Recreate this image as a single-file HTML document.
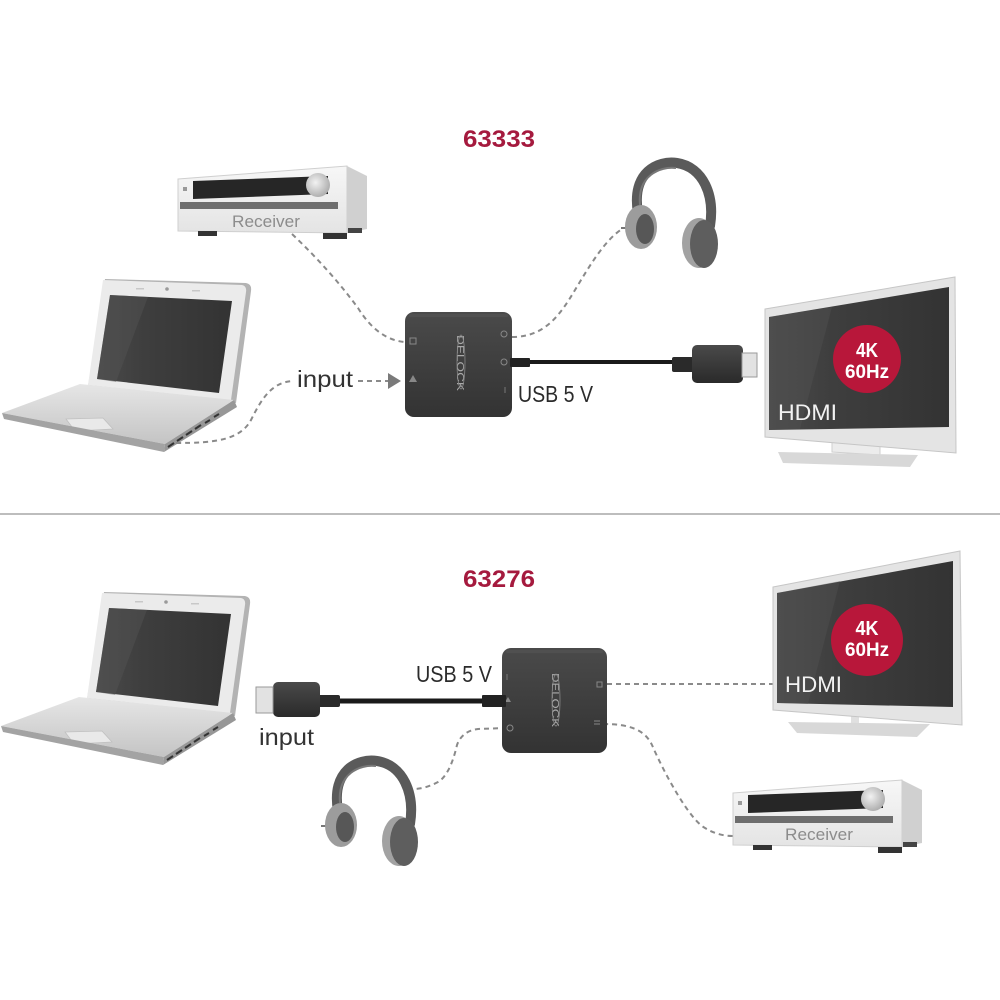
<!DOCTYPE html>
<html><head><meta charset="utf-8"><style>
html,body{margin:0;padding:0;background:#fff;}
svg{display:block;font-family:"Liberation Sans",sans-serif;}
</style></head><body>
<svg width="1000" height="1000" viewBox="0 0 1000 1000" xmlns="http://www.w3.org/2000/svg">
<defs>
<linearGradient id="rf" x1="0" y1="0" x2="0" y2="1"><stop offset="0" stop-color="#f7f7f7"/><stop offset="1" stop-color="#e4e4e4"/></linearGradient>
<radialGradient id="kn" cx="0.4" cy="0.4" r="0.6"><stop offset="0" stop-color="#f2f2f2"/><stop offset="1" stop-color="#b0b0b0"/></radialGradient>
<linearGradient id="bx" x1="0" y1="0" x2="0" y2="1"><stop offset="0" stop-color="#4a4a4a"/><stop offset="1" stop-color="#333"/></linearGradient>
<linearGradient id="pl" x1="0" y1="0" x2="0" y2="1"><stop offset="0" stop-color="#4a4a4a"/><stop offset="1" stop-color="#2a2a2a"/></linearGradient>
<linearGradient id="dk" x1="0" y1="0" x2="0" y2="1"><stop offset="0" stop-color="#e6e6e6"/><stop offset="1" stop-color="#c4c4c4"/></linearGradient>
<linearGradient id="scr" x1="0" y1="0" x2="1" y2="0"><stop offset="0" stop-color="#4a4a4a"/><stop offset="0.35" stop-color="#3e3e3e"/><stop offset="1" stop-color="#333"/></linearGradient>

<g id="rcv">
<polygon points="733,793 902,780 902,847 733,845" fill="url(#rf)" stroke="#cfcfcf" stroke-width="1"/>
<polygon points="902,780 922,790 922,843 902,847" fill="#d0d0d0"/>
<polygon points="748,795 883,790 883,808 748,813" fill="#262626"/>
<circle cx="873" cy="799" r="12" fill="url(#kn)"/>
<rect x="738" y="801" width="4" height="4" fill="#999"/>
<rect x="735" y="816" width="158" height="7" fill="#6e6e6e"/>
<rect x="753" y="845" width="19" height="5" fill="#333"/>
<rect x="878" y="847" width="24" height="6" fill="#333"/>
<rect x="903" y="842" width="14" height="5" fill="#444"/>
</g>

<g id="lap">
<path d="M105,279 L246,283 Q252,284 251,291 L236,403 L88,386 Z" fill="#b3b3b3"/>
<path d="M103,280 L242,285 Q247,286 246,292 L231,400 L88,385 Z" fill="#ebebeb"/>
<polygon points="110,295 232,301 219,393 97,379" fill="url(#scr)"/>
<polygon points="110,295 148,297 116,382 97,379" fill="#555" opacity="0.45"/>
<circle cx="167" cy="289" r="1.8" fill="#9a9a9a"/>
<rect x="136" y="288" width="8" height="1.5" fill="#c8c8c8"/>
<rect x="192" y="290" width="8" height="1.5" fill="#c8c8c8"/>
<polygon points="2,413 80,384 234,400 165,444" fill="url(#dk)"/>
<polygon points="66,419 103,418 113,429 75,431" fill="#e9e9e9" stroke="#c0c0c0" stroke-width="0.8"/>
<polygon points="2,413 165,444 164,452 4,419" fill="#a3a3a3"/>
<polygon points="165,444 234,400 237,407 164,452" fill="#979797"/>
<g stroke="#333" stroke-width="2">
<line x1="168" y1="447" x2="174" y2="443"/><line x1="177" y1="441" x2="183" y2="437"/><line x1="186" y1="435" x2="192" y2="431"/><line x1="195" y1="429" x2="201" y2="425"/><line x1="205" y1="423" x2="210" y2="420"/><line x1="214" y1="417" x2="219" y2="414"/>
</g>
</g>

<g id="hp">
<path d="M638,213 C631,172 658,160 677,163 C703,167 715,195 710,226" stroke="#5a5a5a" stroke-width="10" fill="none" stroke-linecap="round"/>
<path d="M640,205 C637,176 660,166 676,168" stroke="#777" stroke-width="2" fill="none"/>
<line x1="621" y1="228" x2="628" y2="228" stroke="#777" stroke-width="2"/>
<ellipse cx="641" cy="227" rx="16" ry="22" fill="#9c9c9c"/>
<ellipse cx="645" cy="229" rx="9" ry="15" fill="#575757"/>
<ellipse cx="699" cy="243" rx="17" ry="25" fill="#a2a2a2"/>
<ellipse cx="704" cy="244" rx="14" ry="24" fill="#5e5e5e"/>
</g>
</defs>

<!-- separator -->
<line x1="0" y1="514" x2="1000" y2="514" stroke="#bdbdbd" stroke-width="2"/>

<!-- ===== TOP SECTION ===== -->
<text x="499" y="147" font-size="24" font-weight="bold" fill="#a51a3e" text-anchor="middle" textLength="72" lengthAdjust="spacingAndGlyphs">63333</text>

<use href="#rcv" transform="translate(-555,-614)"/>
<text x="266" y="227" font-size="17" fill="#8c8c8c" text-anchor="middle" textLength="68" lengthAdjust="spacingAndGlyphs">Receiver</text>

<use href="#lap"/>
<use href="#hp"/>

<g fill="none" stroke="#8a8a8a" stroke-width="2" stroke-dasharray="5,4">
<path d="M292,234 Q330,270 358,308 Q378,340 405,342"/>
<path d="M512,337 C545,337 560,315 575,290 C590,265 605,240 622,229"/>
<path d="M176,443 C215,443 240,440 251,420 C262,398 272,382 293,381"/>
<path d="M358,381 L388,381"/>
</g>
<polygon points="388,373 401,381 388,389" fill="#7a7a7a"/>
<text x="297" y="387" font-size="23" fill="#333" textLength="56" lengthAdjust="spacingAndGlyphs">input</text>

<!-- top box -->
<rect x="405" y="312" width="107" height="105" rx="9" fill="url(#bx)"/>
<rect x="409" y="314" width="99" height="3" rx="1.5" fill="#555" opacity="0.6"/>
<text transform="translate(457,363) rotate(90)" font-size="10" fill="#aaa" text-anchor="middle" textLength="56" lengthAdjust="spacingAndGlyphs">DELOCK</text>
<ellipse cx="461" cy="362" rx="4" ry="27" fill="none" stroke="#888" stroke-width="0.8"/>
<rect x="410" y="338" width="6" height="6" fill="none" stroke="#888" stroke-width="1"/>
<polygon points="413,375 417,382 409,382" fill="#888"/>
<circle cx="504" cy="334" r="3" fill="none" stroke="#888" stroke-width="1"/>
<circle cx="504" cy="362" r="3" fill="none" stroke="#888" stroke-width="1"/>
<line x1="505" y1="387" x2="505" y2="393" stroke="#777" stroke-width="1"/>

<!-- top cable -->
<line x1="512" y1="362" x2="676" y2="362" stroke="#1a1a1a" stroke-width="4"/>
<rect x="510" y="358" width="20" height="9" rx="1" fill="#222"/>
<rect x="672" y="357" width="22" height="15" rx="2" fill="#2a2a2a"/>
<rect x="692" y="345" width="51" height="38" rx="5" fill="url(#pl)"/>
<rect x="742" y="353" width="15" height="24" fill="#e2e2e2" stroke="#9a9a9a" stroke-width="1"/>
<text x="518" y="402" font-size="23" fill="#2b2b2b" textLength="75" lengthAdjust="spacingAndGlyphs">USB 5 V</text>

<!-- top TV -->
<polygon points="832,437 880,444 880,455 832,452" fill="#ececec" stroke="#cfcfcf"/>
<polygon points="778,452 918,455 910,467 783,463" fill="#d8d8d8"/>
<polygon points="765,309 955,277 956,453 765,437" fill="#e4e4e4" stroke="#c6c6c6"/>
<polygon points="769,317 949,287 949,427 769,430" fill="url(#scr)"/>
<polygon points="769,317 832,307 800,429 769,430" fill="#555" opacity="0.35"/>
<circle cx="867" cy="359" r="34" fill="#b8173a"/>
<text x="867" y="357" font-size="20" font-weight="bold" fill="#fff" text-anchor="middle" textLength="22" lengthAdjust="spacingAndGlyphs">4K</text>
<text x="867" y="378" font-size="19" font-weight="bold" fill="#fff" text-anchor="middle" textLength="44" lengthAdjust="spacingAndGlyphs">60Hz</text>
<text x="778" y="420" font-size="22" fill="#f2f2f2" textLength="59" lengthAdjust="spacingAndGlyphs">HDMI</text>

<!-- ===== BOTTOM SECTION ===== -->
<text x="499" y="587" font-size="24" font-weight="bold" fill="#a51a3e" text-anchor="middle" textLength="72" lengthAdjust="spacingAndGlyphs">63276</text>

<use href="#lap" transform="translate(-1,313)"/>
<use href="#hp" transform="translate(-300,598)"/>
<use href="#rcv"/>
<text x="819" y="840" font-size="17" fill="#8c8c8c" text-anchor="middle" textLength="68" lengthAdjust="spacingAndGlyphs">Receiver</text>

<g fill="none" stroke="#8a8a8a" stroke-width="2" stroke-dasharray="5,4">
<path d="M607,684 L778,684"/>
<path d="M603,724 C630,724 645,730 652,745 C665,775 690,820 705,828 Q718,836 733,836"/>
<path d="M507,728 L478,729 Q462,731 457,745 Q450,775 438,782 Q425,789 413,789"/>
</g>

<!-- bottom TV -->
<polygon points="851,710 859,711 859,724 851,723" fill="#e0e0e0"/>
<polygon points="788,722 930,724 917,737 797,733" fill="#d8d8d8"/>
<polygon points="773,587 960,551 962,725 773,710" fill="#e4e4e4" stroke="#c6c6c6"/>
<polygon points="777,593 953,561 953,707 777,703" fill="url(#scr)"/>
<polygon points="777,593 840,581 808,704 777,703" fill="#555" opacity="0.35"/>
<circle cx="867" cy="640" r="36" fill="#b8173a"/>
<text x="867" y="635" font-size="20" font-weight="bold" fill="#fff" text-anchor="middle" textLength="23" lengthAdjust="spacingAndGlyphs">4K</text>
<text x="867" y="656" font-size="19" font-weight="bold" fill="#fff" text-anchor="middle" textLength="44" lengthAdjust="spacingAndGlyphs">60Hz</text>
<text x="785" y="692" font-size="22" fill="#f2f2f2" textLength="57" lengthAdjust="spacingAndGlyphs">HDMI</text>

<!-- bottom box -->
<rect x="502" y="648" width="105" height="105" rx="9" fill="url(#bx)"/>
<rect x="506" y="650" width="97" height="3" rx="1.5" fill="#555" opacity="0.6"/>
<text transform="translate(552,700) rotate(90)" font-size="10" fill="#aaa" text-anchor="middle" textLength="54" lengthAdjust="spacingAndGlyphs">DELOCK</text>
<ellipse cx="556" cy="700" rx="4" ry="26" fill="none" stroke="#888" stroke-width="0.8"/>
<rect x="597" y="682" width="5" height="5" fill="none" stroke="#888" stroke-width="1"/>
<line x1="594" y1="721" x2="600" y2="721" stroke="#888" stroke-width="1"/>
<line x1="594" y1="724" x2="600" y2="724" stroke="#888" stroke-width="1"/>
<polygon points="508,697 511,702 505,702" fill="#888"/>
<circle cx="510" cy="728" r="3" fill="none" stroke="#888" stroke-width="1"/>
<line x1="507" y1="674" x2="507" y2="680" stroke="#777" stroke-width="1"/>

<!-- bottom cable -->
<line x1="320" y1="701" x2="502" y2="701" stroke="#1a1a1a" stroke-width="5"/>
<rect x="482" y="695" width="24" height="12" rx="1" fill="#222"/>
<rect x="318" y="695" width="22" height="12" rx="2" fill="#2a2a2a"/>
<rect x="273" y="682" width="47" height="35" rx="5" fill="url(#pl)"/>
<rect x="256" y="687" width="17" height="26" fill="#e2e2e2" stroke="#9a9a9a" stroke-width="1"/>
<text x="416" y="682" font-size="23" fill="#2b2b2b" textLength="76" lengthAdjust="spacingAndGlyphs">USB 5 V</text>
<text x="259" y="745" font-size="23" fill="#333" textLength="55" lengthAdjust="spacingAndGlyphs">input</text>
</svg>
</body></html>
